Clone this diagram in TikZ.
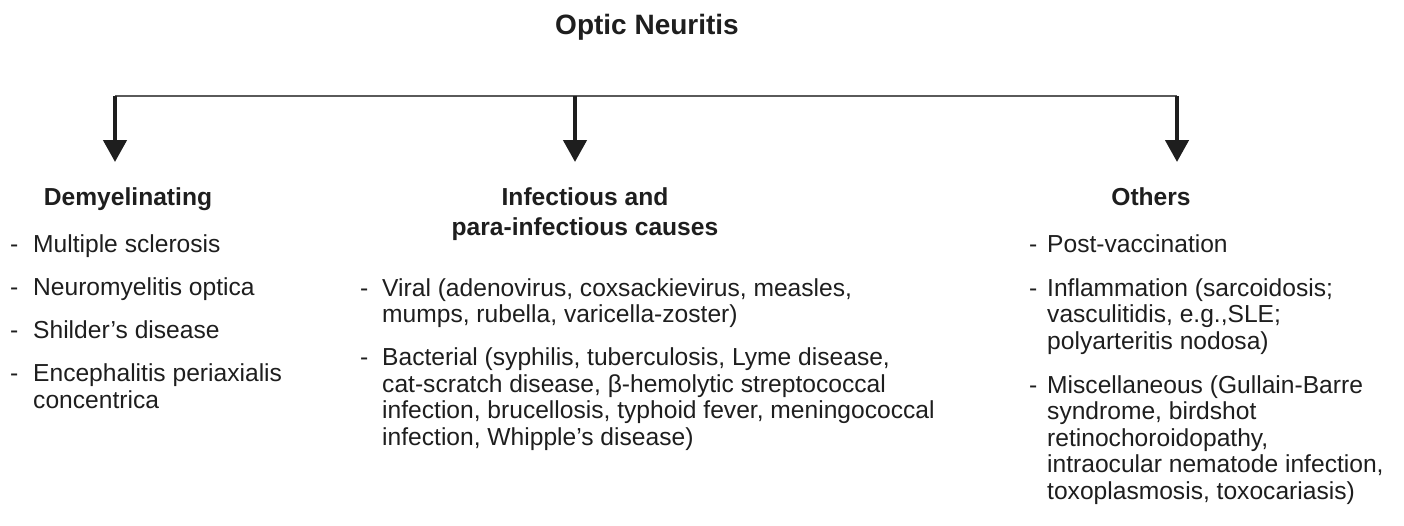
\documentclass[tikz,border=0pt]{standalone}
\usepackage{fontspec}
\setmainfont{Liberation Sans}
\usetikzlibrary{arrows.meta,positioning}

\definecolor{ink}{HTML}{1E1E1E}
\definecolor{barline}{HTML}{5A5A5A}

% dash of a list item, and the indent of its next lines
\newcommand\itm[1][22pt]{\makebox[#1][l]{-}}
\newcommand\cont[1][22pt]{\hspace*{#1}}

\tikzset{
  headline/.style={font=\fontsize{24.6}{30}\selectfont\bfseries, text=ink, align=center, inner sep=0pt, anchor=base},
  causelist/.style={font=\fontsize{24.6}{26.5}\selectfont, text=ink, align=left, inner sep=0pt, anchor=base west},
  downarrow/.style={draw=ink, line width=4.5pt, -{Triangle[width=23pt,length=22pt]}}
}

\begin{document}
\begin{tikzpicture}[x=1pt,y=-1pt]
  \useasboundingbox (0,0) rectangle (1404,525);
  \node[headline, font=\fontsize{28}{32}\selectfont\bfseries] (title) at (647,34) {Optic Neuritis};

  % bar and arrows
  \coordinate (bar-l) at (115,96); \coordinate (bar-m) at (575,96); \coordinate (bar-r) at (1177,96);
  \coordinate (tip-l) at (115,162); \coordinate (tip-m) at (575,162); \coordinate (tip-r) at (1177,162);
  \draw[barline, line width=1.3pt] (bar-l) -- (bar-r);
  \draw[downarrow] (bar-l) -- (tip-l);
  \draw[downarrow] (bar-m) -- (tip-m);
  \draw[downarrow] (bar-r) -- (tip-r);

  % headings (placed by the baseline of their last line)
  \node[headline] (demyel) at (128,205) {Demyelinating};
  \node[headline] (infect) at (585,235) {Infectious and\\para-infectious causes};
  \node[headline] (others) at (1151,205) {Others};

  % lists (placed by the baseline of their last line)
  \node[causelist] (demyel-list) at (10,408) {%
    \itm[23pt]Multiple sclerosis\\[16.5pt]
    \itm[23pt]Neuromyelitis optica\\[16.5pt]
    \itm[23pt]Shilder’s disease\\[16.5pt]
    \itm[23pt]Encephalitis periaxialis\\
    \cont[23pt]concentrica};
  \node[causelist] (infect-list) at (360,445) {%
    \itm Viral (adenovirus, coxsackievirus, measles,\\
    \cont mumps, rubella, varicella-zoster)\\[16.5pt]
    \itm Bacterial (syphilis, tuberculosis, Lyme disease,\\
    \cont cat-scratch disease, β-hemolytic streptococcal\\
    \cont infection, brucellosis, typhoid fever, meningococcal\\
    \cont infection, Whipple’s disease)};
  \node[causelist] (others-list) at (1029,499) {%
    \itm[18pt]Post-vaccination\\[17.5pt]
    \itm[18pt]Inflammation (sarcoidosis;\\
    \cont[18pt]vasculitidis, e.g.,SLE;\\
    \cont[18pt]polyarteritis nodosa)\\[17.5pt]
    \itm[18pt]Miscellaneous (Gullain-Barre\\
    \cont[18pt]syndrome, birdshot\\
    \cont[18pt]retinochoroidopathy,\\
    \cont[18pt]intraocular nematode infection,\\
    \cont[18pt]toxoplasmosis, toxocariasis)};
\end{tikzpicture}
\end{document}
